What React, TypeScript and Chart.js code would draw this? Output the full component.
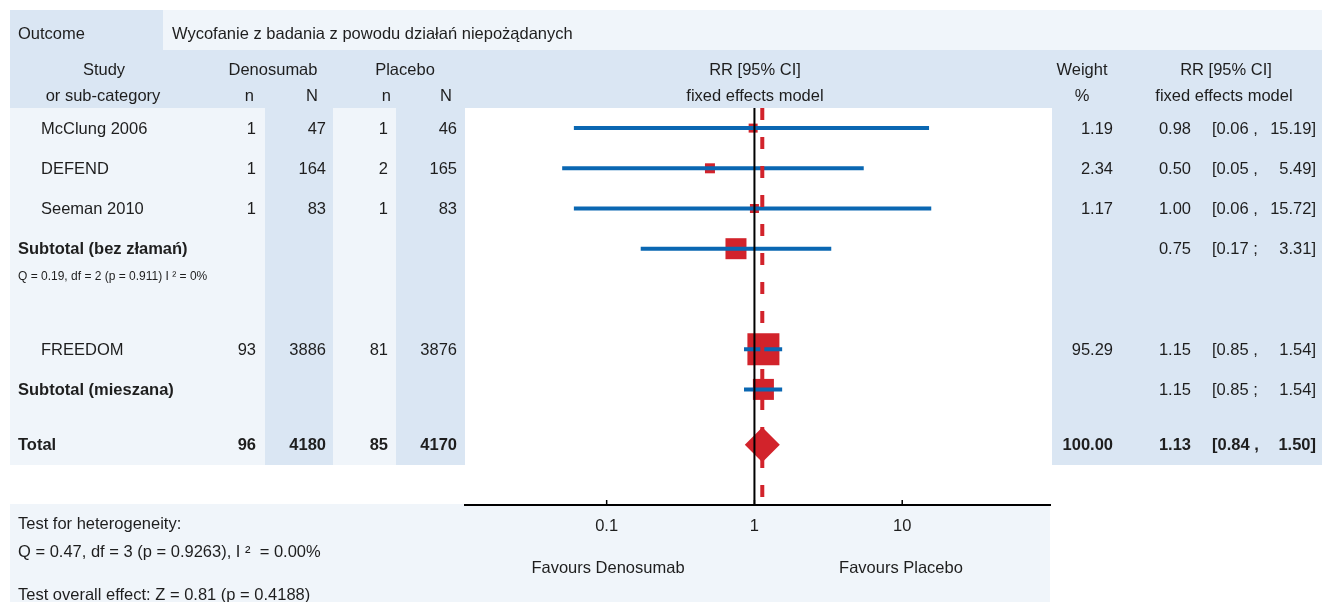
import React, { useEffect, useRef } from "react";
import { Chart, registerables } from "chart.js";

Chart.register(...registerables);

// ---------------- data ----------------
const outcomeLabel = "Outcome";
const outcomeText = "Wycofanie z badania z powodu działań niepożądanych";
const groupA = "Denosumab";
const groupB = "Placebo";

const studies = [
  "McClung 2006",
  "DEFEND",
  "Seeman 2010",
  "Subtotal (bez złamań)",
  "FREEDOM",
  "Subtotal (mieszana)",
  "Total",
];
const rowKinds = ["study", "study", "study", "subtotal", "study", "subtotal", "total"];
const nDen: (number | null)[] = [1, 1, 1, null, 93, null, 96];
const NDen: (number | null)[] = [47, 164, 83, null, 3886, null, 4180];
const nPla: (number | null)[] = [1, 2, 1, null, 81, null, 85];
const NPla: (number | null)[] = [46, 165, 83, null, 3876, null, 4170];
const weights: (number | null)[] = [1.19, 2.34, 1.17, null, 95.29, null, 100.0];
const rr = [0.98, 0.5, 1.0, 0.75, 1.15, 1.15, 1.13];
const ciLo = [0.06, 0.05, 0.06, 0.17, 0.85, 0.85, 0.84];
const ciHi = [15.19, 5.49, 15.72, 3.31, 1.54, 1.54, 1.5];

const axisTicks = [0.1, 1, 10];
const favoursLeft = "Favours Denosumab";
const favoursRight = "Favours Placebo";
const subgroupNote = "Q = 0.19, df = 2 (p = 0.911) I \u00b2 = 0%";
const hetTitle = "Test for heterogeneity:";
const hetText = "Q = 0.47, df = 3 (p = 0.9263), I \u00b2  = 0.00%";
const overallText = "Test overall effect: Z = 0.81 (p = 0.4188)";

// ---------------- layout / style ----------------
const W = 1322;
const H = 602;
const PLOT_L = 465;
const PLOT_R = 1050;
const PLOT_T = 108;
const PLOT_B = 505;
const AXIS_H = 40;
const ROW_H = 20.1;
const rowSlots = [1, 3, 5, 7, 12, 14, 16.75];
const Y_MAX = (PLOT_B - PLOT_T) / ROW_H;
const markerSide = [9, 10, 9, 21, 32, 21, 35];
const X_MIN = 0.011;
const X_MAX = 100;

const BLUE = "#0a67b2";
const RED = "#d2232b";
const LIGHT = "#f0f5fa";
const MID = "#dae6f3";
const TEXT = "#1e1e1e";
const FONT = '"Liberation Sans", Arial, Helvetica, sans-serif';
const FS = 16.5;

const rowY = (i: number) => PLOT_T + rowSlots[i] * ROW_H;

const rects: [number, number, number, number, string][] = [
  [10, 10, 153, 40, MID],
  [163, 10, W - 163, 40, LIGHT],
  [10, 50, W - 10, 58, MID],
  [10, 108, 255, 357, LIGHT],
  [265, 108, 68, 357, MID],
  [333, 108, 63, 357, LIGHT],
  [396, 108, 69, 357, MID],
  [465, 108, PLOT_R - 465 + 2, 397, "#ffffff"],
  [1052, 108, W - 1052, 357, MID],
  [10, 504, PLOT_R - 10, H - 504, LIGHT],
];

type Align = "left" | "right" | "center";
function T(
  key: string,
  x: number,
  y: number,
  s: string,
  align: Align = "left",
  bold = false,
  size = FS
) {
  const tr = align === "right" ? "translateX(-100%)" : align === "center" ? "translateX(-50%)" : undefined;
  return (
    <div
      key={key}
      style={{
        position: "absolute",
        left: x,
        top: y - 10.5,
        height: 20,
        lineHeight: "20px",
        whiteSpace: "pre",
        fontSize: size,
        fontWeight: bold ? "bold" : "normal",
        transform: tr,
        color: TEXT,
      }}
    >
      {s}
    </div>
  );
}

const upTicks = {
  id: "upTicks",
  afterDraw(chart: any) {
    const s = chart.scales.x;
    const ctx = chart.ctx;
    ctx.save();
    ctx.strokeStyle = "#000";
    ctx.lineWidth = 1.5;
    axisTicks.forEach((v) => {
      const px = s.getPixelForValue(v);
      ctx.beginPath();
      ctx.moveTo(px, s.top);
      ctx.lineTo(px, s.top - 5);
      ctx.stroke();
    });
    ctx.restore();
  },
};

export default function App() {
  const ref = useRef<HTMLCanvasElement | null>(null);

  useEffect(() => {
    if (!ref.current) return;
    const datasets: any[] = [];
    datasets.push({
      label: "no effect",
      data: [
        { x: 1, y: 0 },
        { x: 1, y: Y_MAX },
      ],
      showLine: true,
      borderColor: "#000",
      borderWidth: 2,
      pointRadius: 0,
      order: 0,
    });
    datasets.push({
      label: "pooled",
      data: [
        { x: rr[6], y: 0 },
        { x: rr[6], y: 19.4 },
      ],
      showLine: true,
      borderColor: RED,
      borderWidth: 4,
      borderDash: [12, 17],
      pointRadius: 0,
      order: 1,
    });
    studies.forEach((s, i) => {
      if (rowKinds[i] === "total") return;
      datasets.push({
        label: s + " CI",
        data: [
          { x: ciLo[i], y: rowSlots[i] },
          { x: ciHi[i], y: rowSlots[i] },
        ],
        showLine: true,
        borderColor: BLUE,
        borderWidth: 4,
        borderCapStyle: "butt",
        pointRadius: 0,
        order: 2,
      });
    });
    const est = studies.map((_, i) => i).filter((i) => rowKinds[i] !== "total");
    datasets.push({
      label: "estimates",
      data: est.map((i) => ({ x: rr[i], y: rowSlots[i] })),
      pointStyle: "rect",
      pointRadius: est.map((i) => markerSide[i] / Math.SQRT2),
      pointBackgroundColor: RED,
      pointBorderWidth: 0,
      pointBorderColor: RED,
      order: 3,
    });
    const tot = studies.map((_, i) => i).filter((i) => rowKinds[i] === "total");
    datasets.push({
      label: "total",
      data: tot.map((i) => ({ x: rr[i], y: rowSlots[i] })),
      pointStyle: "rectRot",
      pointRadius: tot.map((i) => markerSide[i] / 2),
      pointBackgroundColor: RED,
      pointBorderWidth: 0,
      pointBorderColor: RED,
      order: 3,
    });

    const chart = new Chart(ref.current, {
      type: "scatter",
      data: { datasets },
      plugins: [upTicks],
      options: {
        animation: false,
        responsive: false,
        maintainAspectRatio: false,
        layout: {
          padding: { left: PLOT_L, right: W - PLOT_R, top: PLOT_T, bottom: H - PLOT_B - AXIS_H },
        },
        plugins: { legend: { display: false }, tooltip: { enabled: false } },
        scales: {
          x: {
            type: "logarithmic",
            min: X_MIN,
            max: X_MAX,
            afterFit(s: any) {
              s.height = AXIS_H;
            },
            afterBuildTicks(s: any) {
              s.ticks = axisTicks.map((v) => ({ value: v }));
            },
            grid: { display: false, drawTicks: false },
            border: { display: true, color: "#000", width: 2 },
            ticks: {
              color: TEXT,
              font: { family: FONT, size: FS },
              padding: 12,
              autoSkip: false,
              maxRotation: 0,
              callback: (v: any) => String(v),
            },
          },
          y: { type: "linear", display: false, min: 0, max: Y_MAX, reverse: true },
        },
      } as any,
    });
    return () => chart.destroy();
  }, []);

  const texts: React.ReactNode[] = [];
  texts.push(T("oc", 18, 33, outcomeLabel));
  texts.push(T("ot", 172, 33, outcomeText));
  texts.push(T("h1", 104, 69, "Study", "center"));
  texts.push(T("h2", 103, 95, "or sub-category", "center"));
  texts.push(T("h3", 273, 69, groupA, "center"));
  texts.push(T("h4", 254, 95, "n", "right"));
  texts.push(T("h5", 318, 95, "N", "right"));
  texts.push(T("h6", 405, 69, groupB, "center"));
  texts.push(T("h7", 391, 95, "n", "right"));
  texts.push(T("h8", 452, 95, "N", "right"));
  texts.push(T("h9", 755, 69, "RR [95% CI]", "center"));
  texts.push(T("h10", 755, 95, "fixed effects model", "center"));
  texts.push(T("h11", 1082, 69, "Weight", "center"));
  texts.push(T("h12", 1082, 95, "%", "center"));
  texts.push(T("h13", 1226, 69, "RR [95% CI]", "center"));
  texts.push(T("h14", 1224, 95, "fixed effects model", "center"));

  studies.forEach((s, i) => {
    const y = rowY(i);
    const kind = rowKinds[i];
    const boldName = kind !== "study";
    const bold = kind === "total";
    const sep = kind === "subtotal" ? ";" : ",";
    texts.push(T("n" + i, kind === "study" ? 41 : 18, y, s, "left", boldName));
    if (nDen[i] !== null) texts.push(T("a" + i, 256, y, String(nDen[i]), "right", bold));
    if (NDen[i] !== null) texts.push(T("b" + i, 326, y, String(NDen[i]), "right", bold));
    if (nPla[i] !== null) texts.push(T("c" + i, 388, y, String(nPla[i]), "right", bold));
    if (NPla[i] !== null) texts.push(T("d" + i, 457, y, String(NPla[i]), "right", bold));
    if (weights[i] !== null) texts.push(T("w" + i, 1113, y, (weights[i] as number).toFixed(2), "right", bold));
    texts.push(T("r" + i, 1191, y, rr[i].toFixed(2), "right", bold));
    texts.push(T("l" + i, 1212, y, "[" + ciLo[i].toFixed(2) + " " + sep, "left", bold));
    texts.push(T("u" + i, 1316, y, ciHi[i].toFixed(2) + "]", "right", bold));
  });
  texts.push(T("q1", 18, 276, subgroupNote, "left", false, 12));
  texts.push(T("ht", 18, 523, hetTitle));
  texts.push(T("hq", 18, 551, hetText));
  texts.push(T("ov", 18, 594, overallText));
  texts.push(T("fl", 608, 567, favoursLeft, "center"));
  texts.push(T("fr", 901, 567, favoursRight, "center"));

  return (
    <div
      style={{
        position: "absolute",
        left: 0,
        top: 0,
        width: W,
        height: H,
        overflow: "hidden",
        background: "#fff",
        fontFamily: FONT,
      }}
    >
      {rects.map(([x, y, w, h, c], i) => (
        <div key={"bg" + i} style={{ position: "absolute", left: x, top: y, width: w, height: h, background: c }} />
      ))}
      <canvas ref={ref} width={W} height={H} style={{ position: "absolute", left: 0, top: 0, width: W, height: H }} />
      {texts}
    </div>
  );
}
